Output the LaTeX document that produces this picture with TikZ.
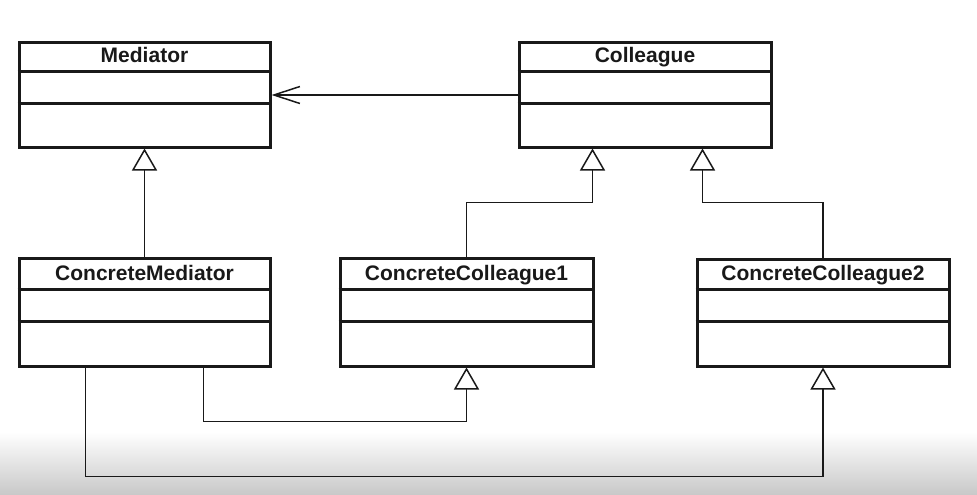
\documentclass[tikz,border=0pt]{standalone}
\usepackage{fontspec}
\setmainfont{Liberation Sans}
\usetikzlibrary{arrows.meta,calc}
\definecolor{ink}{RGB}{25,25,25}
\definecolor{shadegray}{RGB}{200,200,200}
\begin{document}
\begin{tikzpicture}[x=1pt,y=-1pt,
  classbox/.style={draw=ink,line width=3pt,fill=white,minimum width=251pt,inner sep=0pt},
  title/.style={font=\fontsize{21}{25}\selectfont\bfseries,text=ink,inner sep=0pt,anchor=base},
  divider/.style={draw=ink,line width=3pt},
  conn/.style={draw=ink,line width=1.5pt},
  gen/.style={conn,-{Triangle[open,length=22pt,width=25pt,fill=white,line width=1.5pt]}},
  assoc/.style={conn,-{Straight Barb[length=26pt,width=17pt,line width=1.5pt]}}
]
\useasboundingbox (0,0) rectangle (977,495);
\shade[top color=white,bottom color=shadegray] (0,432) rectangle (977,495);

% class boxes
\node[classbox,minimum height=104pt] (med) at (144.5,95) {};
\node[classbox,minimum height=104pt,minimum width=252pt] (col) at (645,95) {};
\node[classbox,minimum height=108pt] (cm) at (144.5,312) {};
\node[classbox,minimum height=108pt,minimum width=253pt] (cc1) at (466.5,312) {};
\node[classbox,minimum height=107pt,minimum width=252pt] (cc2) at (823,312.5) {};

% titles
\node[title] (tmed) at ($(med.north)+(0,21)$) {Mediator};
\node[title] (tcol) at ($(col.north)+(0,21)$) {Colleague};
\node[title] (tcm) at ($(cm.north)+(0,24)$) {ConcreteMediator};
\node[title] (tcc1) at ($(cc1.north)+(0,24)$) {ConcreteColleague1};
\node[title] (tcc2) at ($(cc2.north)+(0,23)$) {ConcreteColleague2};

% dividers
\foreach \n/\a/\b in {med/30/62,col/30/62,cm/33/65,cc1/33/65,cc2/32/64}{
  \draw[divider] ($(\n.north west)+(0,\a)$) -- ($(\n.north east)+(0,\a)$);
  \draw[divider] ($(\n.north west)+(0,\b)$) -- ($(\n.north east)+(0,\b)$);
}

% connectors
\draw[assoc] (col.west) -- (med.east);
\draw[gen] (cm.north) -- (med.south);
\coordinate (colA) at ($(col.south west)+(75,0)$);
\coordinate (colB) at ($(col.south west)+(185,0)$);
\draw[gen] (cc1.north) -- ++(0,-54) -| (colA);
\draw[gen] (cc2.north) -- ++(0,-55) -| (colB);
\coordinate (cmA) at ($(cm.south west)+(186,0)$);
\coordinate (cmB) at ($(cm.south west)+(68,0)$);
\draw[gen] (cmA) -- ++(0,54) -| (cc1.south);
\draw[gen] (cmB) -- ++(0,109) -| (cc2.south);
\end{tikzpicture}
\end{document}
